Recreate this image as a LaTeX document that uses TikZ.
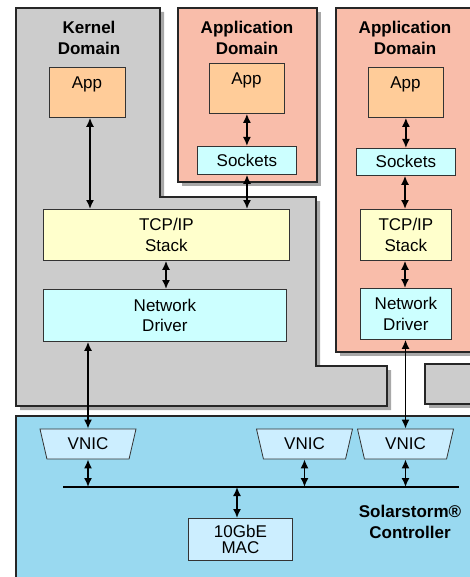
\documentclass[tikz,border=0pt]{standalone}
\usepackage{fontspec}
\setmainfont{Liberation Sans}
\usetikzlibrary{shapes.geometric,arrows.meta}
\definecolor{kgray}{HTML}{CCCCCC}
\definecolor{pinkd}{HTML}{F9BDAA}
\definecolor{apporange}{HTML}{FFCC99}
\definecolor{sockcyan}{HTML}{CCFFFF}
\definecolor{tcpyellow}{HTML}{FFFFCC}
\definecolor{ctrlblue}{HTML}{99D9F0}
\definecolor{vnicblue}{HTML}{CCEEFF}
\definecolor{shadowgray}{HTML}{A8A8A8}
\tikzset{
  domstyle/.style={draw=black!85, line width=1.1pt},
  shadowfill/.style={fill=shadowgray, draw=none},
  box/.style={draw=black!80, line width=0.8pt, inner sep=0pt, anchor=north west},
  txt/.style={font=\fontsize{17}{20.5}\selectfont, align=center, inner sep=0pt},
  ttl/.style={font=\fontsize{17}{20.5}\selectfont\bfseries, align=center, inner sep=0pt},
  dar/.style={{Latex[length=9pt,width=8pt]}-{Latex[length=9pt,width=8pt]}, line width=1.6pt},
  vnic/.style={trapezium, shape border rotate=180, trapezium left angle=60, trapezium right angle=60,
    trapezium stretches body, minimum width=96pt, minimum height=30pt, inner sep=0pt,
    draw=black!80, line width=0.8pt, fill=vnicblue, font=\fontsize{17}{20}\selectfont}
}
\begin{document}
\begin{tikzpicture}[x=1pt,y=-1pt]
\useasboundingbox (0,0) rectangle (470,577);
\clip (0,0) rectangle (470,577);
% shadows
\fill[shadowfill] (20,12) -- (164,12) -- (164,201) -- (320,201) -- (320,370) -- (391,370) -- (391,410) -- (20,410) -- cycle;
\fill[shadowfill] (182,12) rectangle (321,186);
\fill[shadowfill] (340,12) rectangle (480,356);
\fill[shadowfill] (429,368) rectangle (480,408);
% kernel domain
\draw[domstyle, fill=kgray] (16,8) -- (160,8) -- (160,197) -- (316,197) -- (316,366) -- (387,366) -- (387,406) -- (16,406) -- cycle;
% application domains
\draw[domstyle, fill=pinkd] (178,8) rectangle (317,182);
\draw[domstyle, fill=pinkd] (336,8) rectangle (480,352);
% small gray box
\draw[domstyle, fill=kgray] (425,364) rectangle (480,404);
% controller
\draw[domstyle, fill=ctrlblue] (16,416) rectangle (480,590);

% titles
\node[ttl] (kt) at (89,38) {Kernel\\Domain};
\node[ttl] (a1t) at (247,38) {Application\\Domain};
\node[ttl] (a2t) at (405,38) {Application\\Domain};
\node[ttl] (ct) at (410,522) {Solarstorm®\\Controller};

% kernel domain boxes
\node[box, fill=apporange, minimum width=76pt, minimum height=50pt] (kapp) at (49,67) {};
\node[txt] (kappt) at (87,84) {App};
\node[box, fill=tcpyellow, minimum width=246pt, minimum height=51pt] (ktcp) at (43,209) {};
\node[txt] (ktcpt) at (ktcp.center) {TCP/IP\\Stack};
\node[box, fill=sockcyan, minimum width=243pt, minimum height=52pt] (knd) at (43,289) {};
\node[txt] (kndt) at (knd.center) {Network\\Driver};

% app domain 1
\node[box, fill=apporange, minimum width=75pt, minimum height=50pt] (a1app) at (209,63) {};
\node[txt] (a1appt) at (246.5,80) {App};
\node[box, fill=sockcyan, minimum width=99pt, minimum height=28pt] (s1) at (197,146) {};
\node[txt] (s1t) at (s1.center) {Sockets};

% app domain 2
\node[box, fill=apporange, minimum width=75pt, minimum height=50pt] (a2app) at (368,67) {};
\node[txt] (a2appt) at (405.5,84) {App};
\node[box, fill=sockcyan, minimum width=99pt, minimum height=27pt] (s2) at (356,148) {};
\node[txt] (s2t) at (s2.center) {Sockets};
\node[box, fill=tcpyellow, minimum width=91pt, minimum height=51pt] (tcp2) at (360,209) {};
\node[txt] (tcp2t) at (tcp2.center) {TCP/IP\\Stack};
\node[box, fill=sockcyan, minimum width=91pt, minimum height=51pt] (nd2) at (360,288) {};
\node[txt] (nd2t) at (nd2.center) {Network\\Driver};

% VNICs
\node[vnic] (v1) at (88,444) {VNIC};
\node[vnic] (v2) at (304.5,444) {VNIC};
\node[vnic] (v3) at (405.5,444) {VNIC};

% bus
\coordinate (busl) at (63,487);
\coordinate (busr) at (459,487);
\draw[line width=2pt] (busl) -- (busr);

% MAC
\node[box, fill=vnicblue, minimum width=104pt, minimum height=42pt] (mac) at (188,518) {};
\node[txt, font=\fontsize{17}{15.5}\selectfont] (mact) at (mac.center) {10GbE\\MAC};

% arrows
\draw[dar] (kapp.south -| 90,0) -- (ktcp.north -| 90,0);
\draw[dar] (ktcp.south -| 166,0) -- (knd.north -| 166,0);
\draw[dar] (a1app.south) -- (s1.north -| a1app.south);
\draw[dar] (s1.south -| 247,0) -- (ktcp.north -| 247,0);
\draw[dar] (a2app.south) -- (s2.north -| a2app.south);
\draw[dar] (s2.south -| 405,0) -- (tcp2.north -| 405,0);
\draw[dar] (tcp2.south -| 405,0) -- (nd2.north -| 405,0);
\draw[dar] (knd.south -| v1.north) -- (v1.north);
\draw[dar] (nd2.south -| v3.north) -- (v3.north);
\draw[dar] (v1.south) -- (v1.south |- busl);
\draw[dar] (v2.south) -- (v2.south |- busl);
\draw[dar] (v3.south) -- (v3.south |- busl);
\draw[dar] (busl -| 237,0) -- (mac.north -| 237,0);
\end{tikzpicture}
\end{document}
